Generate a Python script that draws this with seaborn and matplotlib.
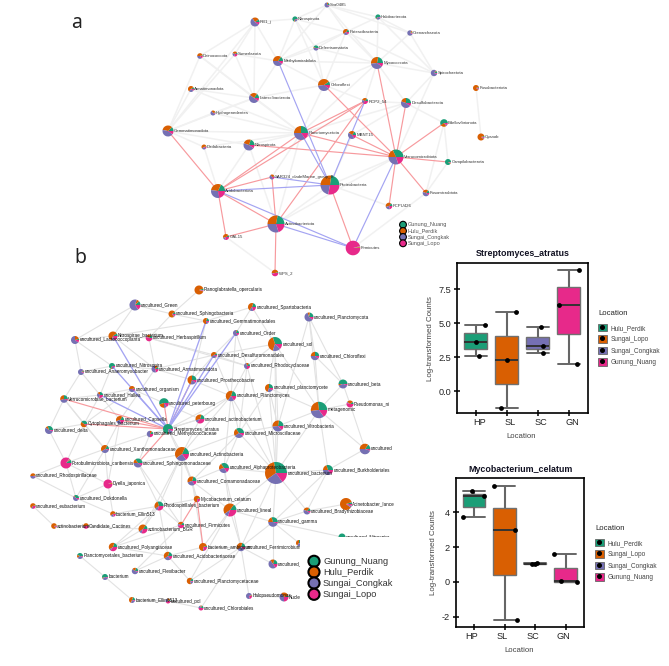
import pandas as pd
import seaborn as sns
import matplotlib.pyplot as plt
from matplotlib.lines import Line2D
from matplotlib.patches import Patch, Rectangle
from matplotlib.legend_handler import HandlerTuple
from matplotlib.transforms import ScaledTranslation

W, H = 669, 666

locations = ['Gunung_Nuang', 'Hulu_Perdik', 'Sungai_Congkak', 'Sungai_Lopo']
location_colors = ['#1B9E77', '#D95F02', '#7570B3', '#E7298A']

# Network a: name, x, y (layout in px from the top left), node size, share per location
a_names = ['RB1_j', 'Sva0485', 'Nitrospinota', 'Halobacterota', 'Patescibacteria', 'Deferrisomatota',
           'Deinococcota', 'Sumerlaeota', 'Methylomirabilota', 'Myxococcota', 'Chloroflexi', 'Armatimonadota',
           'Latescibacterota', 'RCP2_54', 'Hydrogenedentes', 'Gemmatimonadota', 'Planctomycetota', 'MBNT15',
           'Crenarchaeota', 'Spirochaetota', 'Desulfobacterota', 'Fusobacteriota', 'Dadabacteria', 'Nitrospirota',
           'Bdellovibrionota', 'Cyanob', 'Verrucomicrobiota', 'Campilobacterota', 'Fusomicrobiota', 'FCPU426',
           'SAR324_cladeMarine_group_B', 'Proteobacteria', 'Acidobacteriota', 'Actinobacteriota', 'GAL15',
           'Firmicutes', 'WPS_2']
a_x = [255, 327, 295, 378, 346, 316, 200, 235, 278, 377, 324, 191, 254, 365, 213, 168, 301, 352,
       410, 434, 406, 476, 204, 249, 444, 481, 396, 448, 426, 389, 272, 330, 218, 276, 226, 353, 275]
a_y = [22, 5, 19, 17, 32, 48, 56, 54, 61, 63, 85, 89, 98, 101, 113, 131, 133, 135,
       33, 73, 103, 88, 147, 145, 123, 137, 157, 162, 193, 206, 177, 185, 191, 224, 237, 248, 273]
a_size = [4.5, 2.5, 2.6, 2.6, 3.0, 2.6, 2.8, 2.5, 5.0, 6.0, 6.0, 3.0, 5.0, 3.0, 2.5, 5.5, 7.0, 4.0,
          2.7, 3.2, 5.0, 3.0, 2.5, 5.5, 3.8, 3.5, 7.5, 3.0, 3.3, 3.3, 2.5, 9.5, 7.0, 8.5, 3.0, 7.3, 3.3]
a_shares = [[10, 25, 55, 10], [15, 10, 70, 5], [70, 5, 20, 5], [60, 5, 30, 5], [15, 45, 25, 15], [45, 5, 45, 5],
            [5, 45, 35, 15], [10, 35, 25, 30], [15, 35, 40, 10], [22, 30, 38, 10], [10, 42, 38, 10], [10, 55, 25, 10],
            [15, 25, 50, 10], [15, 30, 20, 35], [5, 30, 60, 5], [12, 35, 43, 10], [25, 25, 35, 15], [15, 25, 45, 15],
            [5, 10, 80, 5], [10, 5, 80, 5], [25, 20, 45, 10], [5, 85, 5, 5], [5, 55, 30, 10], [20, 25, 45, 10],
            [60, 25, 5, 10], [5, 85, 5, 5], [32, 18, 30, 20], [90, 5, 3, 2], [15, 30, 45, 10], [15, 40, 25, 20],
            [5, 30, 50, 15], [23, 27, 22, 28], [18, 30, 30, 22], [22, 28, 30, 20], [10, 45, 15, 30], [1, 2, 1, 96],
            [5, 45, 5, 45]]
a_grey = [('RB1', 'Methylo'), ('RB1', 'Latesc'), ('RB1', 'Deino'), ('RB1', 'Gemmat'), ('RB1', 'Sumer'),
          ('RB1', 'Nitrospin'), ('Sva', 'Nitrospin'), ('Sva', 'Halo'), ('Sva', 'Patesc'), ('Sva', 'Myxo'),
          ('Sva', 'Methylo'), ('Sva', 'Crena'), ('Nitrospin', 'Patesc'), ('Nitrospin', 'Chloroflexi'),
          ('Nitrospin', 'Deferr'), ('Nitrospin', 'Methylo'), ('Halo', 'Myxo'), ('Halo', 'Crena'), ('Halo', 'Patesc'),
          ('Halo', 'Spiro'), ('Patesc', 'Myxo'), ('Patesc', 'Deferr'), ('Patesc', 'Chloroflexi'), ('Patesc', 'Methylo'),
          ('Patesc', 'Spiro'), ('Deferr', 'Chloroflexi'), ('Deferr', 'Methylo'), ('Deferr', 'Myxo'), ('Deino', 'Latesc'),
          ('Deino', 'Gemmat'), ('Deino', 'Plancto'), ('Sumer', 'Latesc'), ('Sumer', 'Gemmat'), ('Sumer', 'Methylo'),
          ('Methylo', 'Chloroflexi'), ('Methylo', 'Latesc'), ('Methylo', 'Myxo'), ('Myxo', 'Crena'), ('Myxo', 'Spiro'),
          ('Myxo', 'Desulfo'), ('Myxo', 'Chloroflexi'), ('Myxo', 'RCP2'), ('Myxo', 'Plancto'), ('Chloroflexi', 'Latesc'),
          ('Chloroflexi', 'Plancto'), ('Chloroflexi', 'RCP2'), ('Armat', 'Latesc'), ('Armat', 'Gemmat'), ('Armat', 'Plancto'),
          ('Latesc', 'Plancto'), ('Latesc', 'Gemmat'), ('Latesc', 'Hydrog'), ('Hydrog', 'Gemmat'), ('Hydrog', 'Plancto'),
          ('Gemmat', 'Plancto'), ('Gemmat', 'Nitrospir'), ('Gemmat', 'Dada'), ('Dada', 'Acido'), ('Dada', 'Plancto'),
          ('Nitrospir', 'Plancto'), ('Nitrospir', 'Acido'), ('Nitrospir', 'Actino'), ('Desulfo', 'Spiro'), ('Desulfo', 'RCP2'),
          ('Desulfo', 'Plancto'), ('Desulfo', 'MBNT'), ('Desulfo', 'Bdello'), ('Spiro', 'Crena'), ('Spiro', 'Verruco'),
          ('Fusob', 'Cyano'), ('Bdello', 'Campi'), ('Bdello', 'Fusom'), ('Campi', 'Fusom'), ('Plancto', 'SAR'),
          ('Plancto', 'Actino'), ('Proteo', 'Actino'), ('MBNT', 'Proteo'), ('Proteo', 'Verruco'), ('FCPU', 'Proteo'),
          ('GAL', 'WPS'), ('Actino', 'Verruco'), ('Firmi', 'Fusom')]
a_red = [('Myxo', 'Verruco'), ('Desulfo', 'Verruco'), ('Chloroflexi', 'Verruco'), ('Plancto', 'Verruco'),
         ('MBNT', 'Verruco'), ('Nitrospir', 'Verruco'), ('Bdello', 'Verruco'), ('Campi', 'Verruco'), ('Fusom', 'Verruco'),
         ('FCPU', 'Verruco'), ('Gemmat', 'Acido'), ('Plancto', 'Acido'), ('RCP2', 'Acido'), ('SAR', 'Acido'), ('GAL', 'Acido'),
         ('Acido', 'Actino'), ('GAL', 'Actino'), ('SAR', 'Actino'), ('WPS', 'Actino'), ('Actino', 'RCP2'),
         ('Proteo', 'Firmi'), ('Plancto', 'RCP2')]
a_blue = [('Methylo', 'Proteo'), ('Plancto', 'Proteo'), ('RCP2', 'Proteo'), ('Acido', 'Proteo'), ('SAR', 'Proteo'),
          ('Acido', 'Firmi'), ('Actino', 'Firmi'), ('Verruco', 'Firmi')]

# Network b
b_names = ['uncultured_Green', 'uncultured_Sphingobacteria', 'Planoglabratella_opercularis', 'uncultured_Lactococcoplanta',
           'Nitrospirae_bacterium', 'uncultured_Herbaspirillum', 'uncultured_Gemmatimonadales', 'uncultured_Nitrosopira',
           'uncultured_Anaeromyxobacter', 'uncultured_Armatimonadota', 'uncultured_organism', 'uncultured_Prosthecobacter',
           'Verrucomicrobiae_bacterium', 'uncultured_Hallea', 'uncultured_peterbourg', 'Cytophagales_bacterium', 'uncultured_delta',
           'uncultured_Capsella', 'Streptomyces_atratus', 'uncultured_Methylococcaceae', 'uncultured_actinobacterium',
           'uncultured_Xanthomonadaceae', 'uncultured_Sphingomonadaceae', 'Porobulimicrobiota_caribensis', 'uncultured_Actinobacteria',
           'uncultured_Rhodospirillaceae', 'Dyella_japonica', 'uncultured_Comamonadaceae', 'uncultured_Dokdonella',
           'uncultured_eubacterium', 'Rhodospirillales_bacterium', 'Mycobacterium_celatum', 'bacterium_Ellin513',
           'actinobacterium', 'Candidate_Cactines', 'actinobacterium_BGR', 'uncultured_Firmicutes', 'uncultured_Polyangiaceae',
           'Planctomycetales_bacterium', 'uncultured_Acidobacteriaceae', 'bacterium_ambiguum', 'uncultured_Flexibacter', 'bacterium',
           'uncultured_Planctomycetaceae', 'bacterium_Ellin6513', 'uncultured_pol', 'uncultured_Chlorobiales', 'uncultured',
           'uncultured_bacterium', 'uncultured_Alphaproteobacteria', 'uncultured_Burkholderiales', 'Acinetobacter_lance',
           'uncultured_Bradyrhizobiaceae', 'uncultured_lineal', 'uncultured_gamma', 'uncultured_Ferrimicrobium', 'uncultured_hidden',
           'uncultured_Nitrospira', 'uncultured_', 'Halopseudomonas', 'Nuclear_theo', 'uncultured_Spartobacteria',
           'uncultured_Planctomycota', 'uncultured_Order', 'uncultured_sol', 'uncultured_Desulfuromonadales', 'uncultured_Chloroflexi',
           'uncultured_Rhodocyclaceae', 'uncultured_beta', 'uncultured_planctomycete', 'uncultured_Planctomyces', 'Pseudomonas_ni',
           'metagenomic', 'uncultured_Microscillaceae', 'uncultured_Vitrobacteria']
b_x = [135, 172, 199, 75, 113, 149, 206, 112, 81, 155, 132, 192, 64, 100, 164, 84, 49, 120, 168, 150, 200,
       105, 138, 66, 182, 33, 108, 192, 76, 33, 159, 197, 113, 54, 86, 143, 181, 113, 80, 168, 203, 135, 105,
       190, 132, 168, 201, 365, 276, 224, 328, 346, 307, 230, 273, 241, 299, 342, 273, 249, 284, 252, 309, 236,
       275, 214, 315, 247, 343, 269, 231, 350, 319, 239, 278]
b_y = [305, 314, 290, 340, 336, 338, 321, 366, 372, 369, 389, 380, 399, 395, 403, 424, 430, 420, 429, 434, 419,
       449, 463, 463, 454, 476, 484, 481, 498, 506, 506, 499, 514, 526, 526, 529, 525, 547, 556, 556, 547, 571, 577,
       581, 600, 601, 608, 449, 473, 468, 470, 504, 511, 510, 522, 547, 543, 537, 564, 596, 597, 307, 317, 333,
       344, 355, 356, 366, 384, 388, 396, 404, 410, 433, 426]
b_size = [5.5, 3.5, 4.5, 4.0, 4.5, 3.3, 3.0, 3.0, 3.0, 3.5, 3.0, 4.5, 3.8, 3.0, 4.8, 3.3, 4.0, 4.0, 5.0, 3.2, 4.5,
          4.0, 4.5, 5.5, 7.0, 2.7, 4.5, 4.5, 3.0, 2.8, 4.5, 3.2, 2.8, 2.8, 2.8, 4.5, 3.2, 4.2, 3.0, 4.2, 4.0, 3.2, 3.0,
          3.2, 3.0, 2.5, 2.5, 5.3, 11.0, 5.0, 5.0, 6.0, 3.5, 6.5, 4.8, 4.2, 3.0, 3.5, 4.5, 3.0, 4.5, 4.0,
          4.5, 3.0, 7.0, 3.0, 4.2, 3.0, 4.5, 4.0, 5.2, 3.5, 8.2, 5.0, 5.5]
b_shares = [[12, 8, 65, 15], [10, 75, 5, 10], [5, 90, 3, 2], [5, 20, 65, 10], [10, 60, 10, 20], [15, 25, 5, 55],
            [20, 55, 15, 10], [70, 5, 15, 10], [5, 5, 85, 5], [10, 15, 55, 20], [5, 45, 40, 10], [25, 45, 20, 10],
            [25, 30, 40, 5], [25, 15, 30, 30], [55, 20, 10, 15], [40, 50, 5, 5], [30, 10, 55, 5], [15, 40, 25, 20],
            [75, 3, 15, 7], [15, 10, 50, 25], [20, 35, 10, 35], [15, 45, 35, 5], [35, 15, 40, 10], [10, 3, 2, 85],
            [18, 42, 25, 15], [5, 45, 45, 5], [1, 4, 1, 94], [20, 35, 30, 15], [35, 5, 50, 10], [5, 60, 10, 25],
            [30, 30, 10, 30], [5, 70, 5, 20], [5, 55, 20, 20], [3, 85, 5, 7], [5, 45, 5, 45], [15, 45, 10, 30],
            [15, 30, 10, 45], [20, 40, 5, 35], [45, 15, 35, 5], [20, 40, 25, 15], [5, 70, 5, 20], [20, 20, 55, 5],
            [55, 5, 35, 5], [15, 65, 15, 5], [20, 50, 25, 5], [10, 20, 30, 40], [20, 10, 20, 50], [15, 35, 45, 5],
            [28, 32, 25, 15], [35, 20, 30, 15], [30, 20, 35, 15], [5, 85, 5, 5], [15, 30, 45, 10], [15, 45, 10, 30],
            [30, 20, 45, 5], [20, 40, 30, 10], [25, 40, 25, 10], [90, 3, 5, 2], [20, 15, 50, 15], [3, 5, 72, 20],
            [5, 30, 40, 25], [20, 45, 15, 20], [22, 8, 60, 10], [20, 5, 60, 15], [30, 40, 18, 12], [10, 50, 30, 10],
            [25, 25, 40, 10], [15, 15, 45, 25], [50, 5, 40, 5], [25, 45, 20, 10], [20, 45, 20, 15], [10, 30, 5, 55],
            [27, 25, 33, 15], [35, 25, 30, 10], [22, 30, 35, 13]]
b_grey = [('Green', 'Lactococ'), ('Green', 'Nitrospirae'), ('Green', 'Sphingobact'), ('Planoglab', 'Sphingobact'),
          ('Sphingobact', 'Gemmatimon'), ('Sphingobact', 'Herbasp'), ('Lactococ', 'Nitrospirae'), ('Lactococ', 'Anaeromyx'),
          ('Lactococ', 'Nitrosopira'), ('Nitrospirae', 'Herbasp'), ('Nitrospirae', 'Gemmatimon'), ('Nitrospirae', 'Armatimon'),
          ('Herbasp', 'Armatimon'), ('Herbasp', 'Desulfuro'), ('Herbasp', 'Rhodocyc'), ('Gemmatimon', 'Spartob'),
          ('Gemmatimon', 'Prosthe'), ('Nitrosopira', 'Hallea'), ('Nitrosopira', 'Armatimon'), ('Anaeromyx', 'Hallea'),
          ('Anaeromyx', 'Verrucomicrobiae'), ('Anaeromyx', 'Nitrosopira'), ('Armatimon', 'Desulfuro'), ('Armatimon', 'Prosthe'),
          ('Armatimon', 'Capsella'), ('organism', 'Hallea'), ('organism', 'peterb'), ('organism', 'Cytophag'),
          ('Verrucomicrobiae', 'Hallea'), ('Verrucomicrobiae', '_delta'), ('Verrucomicrobiae', 'Cytophag'), ('Verrucomicrobiae', 'Xantho'),
          ('Hallea', 'Cytophag'), ('Hallea', 'Capsella'), ('_delta', 'caribensis'), ('_delta', 'Cytophag'), ('Cytophag', 'Xantho'),
          ('Cytophag', 'caribensis'), ('Capsella', 'Xantho'), ('Capsella', 'japonica'), ('Xantho', 'caribensis'), ('Xantho', 'japonica'),
          ('Xantho', 'Dokdon'), ('caribensis', 'japonica'), ('caribensis', 'Rhodospirillaceae'), ('caribensis', 'Dokdon'),
          ('Rhodospirillaceae', 'Dokdon'), ('eubact', 'actinobacterium'), ('Dokdon', 'japonica'), ('Dokdon', 'Ellin513'),
          ('japonica', 'Ellin513'), ('Ellin513', 'Rhodospirillales'), ('actinobacterium', 'Cactines'), ('Cactines', 'BGR'),
          ('BGR', 'Rhodospirillales'), ('BGR', 'Polyang'), ('BGR', '_Actinobacteria'), ('Polyang', 'Acidobacteriaceae'),
          ('Polyang', 'Firmicutes'), ('Polyang', 'Rhodospirillales'), ('Planctomycetales', 'bacterium'), ('bacterium', 'Ellin6'),
          ('Ellin6', '_pol'), ('_pol', 'Chlorobi'), ('Flexib', 'Acidobacteriaceae'), ('Flexib', 'Firmicutes'),
          ('Acidobacteriaceae', 'Planctomycetaceae'), ('Acidobacteriaceae', 'ambiguum'), ('Acidobacteriaceae', 'Rhodospirillales'),
          ('Planctomycetaceae', 'Ferrimic'), ('Planctomycetaceae', 'lineal'), ('Chlorobi', 'Ferrimic'), ('Sphingomonadaceae', '_Actinobacteria'),
          ('Sphingomonadaceae', 'Rhodospirillales'), ('Sphingomonadaceae', 'Firmicutes'), ('_Actinobacteria', 'Comamon'),
          ('_Actinobacteria', 'Rhodospirillales'), ('_Actinobacteria', 'Microscill'), ('_Actinobacteria', 'Planctomyces'),
          ('_Actinobacteria', 'uncultured_actino'), ('_Actinobacteria', 'Firmicutes'), ('_Actinobacteria', 'Mycobact'),
          ('Comamon', 'lineal'), ('Comamon', 'Alphaproteo'), ('Comamon', 'Mycobact'), ('Comamon', 'ambiguum'), ('Comamon', 'Microscill'),
          ('lineal', 'uncultured_bacterium'), ('lineal', 'Alphaproteo'), ('lineal', 'Ferrimic'), ('lineal', 'gamma'), ('lineal', 'ambiguum'),
          ('Alphaproteo', 'uncultured_bacterium'), ('Alphaproteo', 'Microscill'), ('Alphaproteo', 'Planctomyces'), ('Alphaproteo', 'Ferrimic'),
          ('uncultured_bacterium', '_sol'), ('uncultured_bacterium', 'metagenomic'), ('uncultured_bacterium', 'Vitro'),
          ('uncultured_bacterium', 'Microscill'), ('uncultured_bacterium', 'Burkhold'), ('uncultured_bacterium', 'gamma'),
          ('uncultured_bacterium', 'Bradyrhiz'), ('uncultured_bacterium', 'Ferrimic'), ('uncultured_bacterium', 'planctomycete'),
          ('uncultured_bacterium', 'Planctomyces'), ('uncultured_bacterium', 'Rhodocyc'), ('gamma', 'uncultured_'), ('gamma', 'Ferrimic'),
          ('gamma', 'Bradyrhiz'), ('gamma', 'Burkhold'), ('gamma', 'uncultured_hidden'), ('gamma', 'uncultured_Nitrospira'),
          ('Burkhold', 'uncultured'), ('Burkhold', 'metagenomic'), ('Burkhold', 'Bradyrhiz'), ('Bradyrhiz', 'lance'),
          ('metagenomic', 'uncultured'), ('metagenomic', 'Vitro'), ('metagenomic', '_sol'), ('metagenomic', 'Planctomycota'),
          ('metagenomic', 'Chloroflexi'), ('metagenomic', 'planctomycete'), ('metagenomic', 'Pseudomonas'), ('metagenomic', '_beta'),
          ('Chloroflexi', '_beta'), ('Planctomycota', 'Chloroflexi'), ('Planctomycota', 'Vitro'), ('Planctomycota', '_beta'),
          ('_beta', 'Pseudomonas'), ('Pseudomonas', 'uncultured'), ('Vitro', '_sol'), ('Vitro', 'planctomycete'), ('Vitro', 'Microscill'),
          ('Microscill', 'Planctomyces'), ('Microscill', 'Rhodocyc'), ('Microscill', 'planctomycete'), ('Planctomyces', 'Rhodocyc'),
          ('Planctomyces', 'Desulfuro'), ('Planctomyces', 'Order'), ('Planctomyces', 'Prosthe'), ('Planctomyces', 'Strepto'),
          ('Rhodocyc', 'Order'), ('Rhodocyc', 'Desulfuro'), ('Rhodocyc', '_sol'), ('Desulfuro', '_sol'), ('Desulfuro', 'Order'),
          ('Desulfuro', 'Prosthe'), ('Order', 'Spartob'), ('_sol', 'Spartob'), ('_sol', 'planctomycete'), ('uncultured_actino', 'peterb'),
          ('uncultured_actino', 'Methylococ'), ('uncultured_actino', 'Planctomyces'), ('Strepto', 'uncultured_actino'), ('Strepto', '_Actinobacteria'),
          ('Strepto', 'Comamon'), ('Methylococ', 'Sphingomonadaceae'), ('Methylococ', 'Xantho'), ('Mycobact', 'Rhodospirillales'),
          ('Firmicutes', 'Rhodospirillales'), ('Ferrimic', 'ambiguum'), ('Halopseudo', 'Nuclear'), ('Halopseudo', 'Ferrimic'), ('uncultured_', 'Ferrimic')]
b_red = [('Verrucomicrobiae', 'Strepto'), ('Capsella', 'Strepto'), ('peterb', 'Strepto'), ('Prosthe', 'Strepto'),
         ('Strepto', 'Sphingomonadaceae'), ('Mycobact', 'Firmicutes'), ('Mycobact', 'ambiguum'), ('Cytophag', 'Strepto')]
b_blue = [('Strepto', 'Nitrospirae'), ('Strepto', 'Order'), ('Strepto', 'Gemmatimon'), ('Strepto', 'Desulfuro'),
          ('Strepto', 'organism'), ('Strepto', 'Hallea'), ('Strepto', 'Nitrosopira'), ('Strepto', 'Prosthe')]

# Box plots
site_labels = ['HP', 'SL', 'SC', 'GN']
site_locations = ['Hulu_Perdik', 'Sungai_Lopo', 'Sungai_Congkak', 'Gunung_Nuang']
site_colors = ['#1B9E77', '#D95F02', '#7570B3', '#E7298A']
strep_values = [[4.85, 3.65, 2.6], [5.85, 2.3, -1.2], [4.7, 3.35, 2.8], [8.95, 6.35, 2.0]]
strep_jitter = [[0.31, 0.0, 0.11], [0.29, 0.02, -0.17], [0.1, 0.16, 0.16], [0.34, -0.32, 0.28]]
myco_values = [[5.2, 4.9, 3.7], [5.5, 2.95, -2.2], [1.1, 1.05, 1.0], [1.6, 0.05, 0.0]]
myco_jitter = [[-0.06, 0.31, -0.35], [-0.35, 0.34, 0.39], [0.05, -0.1, 0.0], [-0.39, -0.16, 0.37]]

sns.set_theme(style='white')
plt.rcParams['font.family'] = ['Liberation Sans', 'DejaVu Sans']

fig = plt.figure(figsize=(W / 100, H / 100), dpi=100)
ax = fig.add_axes([0, 0, 1, 1])


def find(names, key):
    if key in names:
        return names.index(key)
    return [i for i, n in enumerate(names) if key in n][0]


def draw_edges(names, xs, ys, pairs, color, lw, z):
    for p, q in pairs:
        i, j = find(names, p), find(names, q)
        ax.plot([xs[i], xs[j]], [H - ys[i], H - ys[j]], color=color, lw=lw, zorder=z, solid_capstyle='round')


def draw_nodes(names, xs, ys, sizes, shares, fontsize, txtcolor):
    for name, x, y, r, s in zip(names, xs, ys, sizes, shares):
        ax.pie(s, colors=location_colors, center=(x, H - y), radius=r, startangle=0, frame=True,
               wedgeprops={'linewidth': 0, 'zorder': 1.5})
        if name != 'uncultured_hidden':
            ax.text(x + r + 0.3, H - y, name, fontsize=fontsize, color=txtcolor, va='center', ha='left', zorder=3)


draw_edges(a_names, a_x, a_y, a_grey, '#f1f1f1', 1.1, 0.5)
draw_edges(a_names, a_x, a_y, a_red, '#f79a9e', 0.85, 0.8)
draw_edges(a_names, a_x, a_y, a_blue, '#a4a4f2', 0.85, 0.8)
draw_nodes(a_names, a_x, a_y, a_size, a_shares, 3.1, '#333333')

draw_edges(b_names, b_x, b_y, b_grey, '#e2e2e2', 0.8, 0.5)
draw_edges(b_names, b_x, b_y, b_red, '#f79a9e', 0.85, 0.8)
draw_edges(b_names, b_x, b_y, b_blue, '#a4a4f2', 0.95, 0.8)
draw_nodes(b_names, b_x, b_y, b_size, b_shares, 3.3, '#111111')

# the legend of panel b sits on a white box that hides part of the network
ax.add_patch(Rectangle((300, H - 612), 125, 75, fc='white', ec='none', zorder=4))

sns.scatterplot(x=[403] * 4, y=[H - v for v in [224.7, 231, 237, 243.3]], hue=locations, palette=location_colors,
                s=24, edgecolor='black', linewidth=0.8, legend=False, ax=ax, zorder=5)
sns.scatterplot(x=[314] * 4, y=[H - v for v in [561.3, 572, 583, 594.3]], hue=locations, palette=location_colors,
                s=64, edgecolor='black', linewidth=1.5, legend=False, ax=ax, zorder=5)
for name, y in zip(locations, [224.7, 231, 237, 243.3]):
    ax.text(408, H - y, name, fontsize=4.0, color='#555555', va='center', zorder=5)
for name, y in zip(locations, [561.3, 572, 583, 594.3]):
    ax.text(323, H - y, name, fontsize=6.7, color='#333333', va='center', zorder=5)

ax.text(77, H - 23, 'a', fontsize=14, family='Noto Sans', color='#222222', ha='center', va='center')
ax.text(80, H - 258, 'b', fontsize=14, family='Noto Sans', color='#222222', ha='center', va='center')

ax.set_xlim(0, W)
ax.set_ylim(0, H)
ax.set_aspect('auto')
ax.axis('off')


def box_panel(values, jitter, title, rect, ylim, yticks, yticklabels, title_y, legend_xy, label_shift, label_xy):
    left, top, right, bottom = rect
    bx = fig.add_axes([left / W, 1 - bottom / H, (right - left) / W, (bottom - top) / H])
    df = pd.DataFrame({
        'site': [s for s, v in zip(site_labels, values) for _ in v],
        'Location': [s for s, v in zip(site_locations, values) for _ in v],
        'value': [x for v in values for x in v],
    })
    sns.boxplot(data=df, x='site', y='value', hue='Location', hue_order=site_locations, palette=site_colors,
                saturation=1, dodge=False, width=0.74, whis=3, legend=False, ax=bx, linecolor='#707070', linewidth=1.0,
                medianprops={'color': '#333333', 'linewidth': 1.4}, whiskerprops={'color': '#666666', 'linewidth': 1.5},
                capprops={'color': '#666666', 'linewidth': 1.4}, capwidths=0.7)
    px = [i + o for i, off in enumerate(jitter) for o in off]
    sns.scatterplot(x=px, y=df['value'], color='black', s=12, linewidth=0, legend=False, ax=bx, zorder=6)
    bx.set_xlim(-0.594, 3.61)
    bx.set_ylim(*ylim)
    bx.set_xticks(range(4))
    bx.set_xticklabels(site_labels)
    bx.set_yticks(yticks)
    bx.set_yticklabels(yticklabels)
    bx.tick_params(axis='both', length=5, width=1.1, direction='inout', color='black', labelsize=6.6,
                   labelcolor='#222222', bottom=True, left=True, pad=2)
    bx.tick_params(axis='x', pad=1)
    for lab in bx.get_xticklabels():
        lab.set_transform(lab.get_transform() + ScaledTranslation(label_shift / 100, 0, fig.dpi_scale_trans))
    for s in bx.spines.values():
        s.set_linewidth(1.2)
        s.set_color('black')
    bx.set_xlabel('')
    bx.set_ylabel('')
    fig.text((left + right) / 2 / W, 1 - title_y / H, title, fontsize=6.4, fontweight='bold', color='#111122',
             ha='center', va='center')
    fig.text(label_xy[0] / W, 1 - (top + bottom) / 2 / H, 'Log-transformed Counts', fontsize=5.7, color='#444444',
             rotation=90, ha='center', va='center')
    fig.text((left + right) / 2 / W - 0.002, 1 - label_xy[1] / H, 'Location', fontsize=5.6, color='#444444',
             ha='center', va='center')
    handles = [(Patch(fc=c, ec='#666666', lw=0.6), Line2D([0], [0], marker='o', ls='', color='black', ms=2.6))
               for c in site_colors]
    leg = bx.legend(handles, site_locations, handler_map={tuple: HandlerTuple(ndivide=1, pad=0)}, title='Location',
                    loc='upper left', bbox_to_anchor=(legend_xy[0] / W, 1 - legend_xy[1] / H), bbox_transform=fig.transFigure,
                    frameon=False, fontsize=4.7, title_fontsize=5.6, alignment='left', borderpad=0, borderaxespad=0,
                    handlelength=1.35, handleheight=1.35, labelspacing=0.55, handletextpad=0.6,
                    labelcolor='#444444')
    leg._legend_box.sep = 5


box_panel(strep_values, strep_jitter, 'Streptomyces_atratus', (457.3, 263.3, 587.7, 413.3), (-1.62, 9.41),
          [0, 2.5, 5, 7.5], ['0.0', '2.5', '5.0', '7.5'], 253.5, (598, 310), 3.5, (430, 437))
box_panel(myco_values, myco_jitter, 'Mycobacterium_celatum', (456, 478.3, 584.3, 627.3), (-2.6, 5.94),
          [-2, 0, 2, 4], ['-2', '0', '2', '4'], 469.5, (595, 525), -2.5, (433, 650))

fig.savefig('out.png', dpi=100)
